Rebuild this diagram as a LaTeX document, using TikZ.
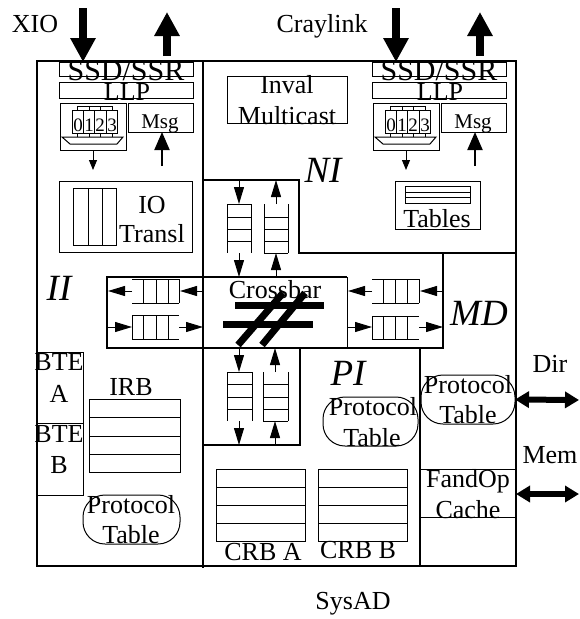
\documentclass[tikz,border=0pt]{standalone}
\usepackage{fontspec}
\setmainfont{Liberation Serif}
\usetikzlibrary{arrows.meta}
\tikzset{
 thk/.style={line width=2pt},
 thn/.style={line width=1pt},
 rbox/.style={draw, line width=1pt, inner sep=0pt, outer sep=0pt, anchor=north west},
 rnd/.style={rbox, rounded corners=22pt},
 txt/.style={inner sep=0pt, anchor=base, font=\fontsize{26}{30}\selectfont},
 ssdtxt/.style={txt, font=\fontsize{30}{30}\selectfont},
 stxt/.style={txt, font=\fontsize{21}{24}\selectfont},
 dtxt/.style={txt, font=\fontsize{19}{22}\selectfont},
 itxt/.style={txt, font=\fontsize{37}{40}\selectfont\itshape},
 bigarr/.style={line width=8pt, -{Triangle[width=24pt,length=24pt]}},
 midarr/.style={line width=2pt, -{Triangle[width=15pt,length=18pt]}},
 smarr/.style={line width=1pt, -{Triangle[width=8pt,length=10pt]}},
 qarr/.style={line width=1pt, -{Triangle[width=10pt,length=17pt]}},
 dblarr/.style={line width=6pt, {Triangle[width=16pt,length=14pt]}-{Triangle[width=16pt,length=14pt]}},
 lad/.style={line width=1pt},
}
\begin{document}
\begin{tikzpicture}[x=1pt,y=-1pt]
\useasboundingbox (0,0) rectangle (579,619);
% outer chip box and region borders
\node[draw, thk, inner sep=0pt, minimum width=479pt, minimum height=505pt, anchor=north west] (chip) at (36,60) {};
\draw[thk] (203,60) -- (203,568);
\draw[thk] (203,180) -- (299,180) -- (299,253) -- (515,253);
\draw[thk] (347,277) -- (107,277) -- (107,348) -- (443,348) -- (443,253);
\draw[thn] (347,277) -- (347,348);
\draw[thk] (203,445) -- (300,445) -- (300,348);
\draw[thk] (420,348) -- (420,565);
% external labels
\node[txt] (tXIO) at (35,32) {XIO};
\node[txt] (tCray) at (322,32) {Craylink};
\node[txt] (tSys) at (353,609) {SysAD};
\node[txt] (tDir) at (550,372) {Dir};
\node[txt] (tMem) at (550,463) {Mem};
% the two link modules
\foreach \dx/\s in {0/L,313/R}{
 \node[rbox, minimum width=134pt, minimum height=14pt] (ssd\s) at ({59+\dx},62) {};
 \node[rbox, minimum width=134pt, minimum height=16pt] (llp\s) at ({59+\dx},82) {};
 \node[rbox, minimum width=66pt, minimum height=47pt] (qb\s) at ({60+\dx},103) {};
 \node[rbox, minimum width=65pt, minimum height=29pt] (msg\s) at ({128+\dx},103) {};
 \node[ssdtxt] (tssd\s) at ({126+\dx},80) {SSD/SSR};
 \node[txt] (tllp\s) at ({127+\dx},100) {LLP};
 \node[stxt] (tmsg\s) at ({160+\dx},128) {Msg};
 \draw[thn] ({72+\dx},110) rectangle ({117+\dx},133);
 \foreach \xx in {83,94,106}{\draw[thn] ({\xx+\dx},110) -- ({\xx+\dx},133);}
 \draw[thn] ({77+\dx},110) -- ({77+\dx},106) -- ({112+\dx},106) -- ({112+\dx},110);
 \foreach \xx in {89,100}{\draw[thn] ({\xx+\dx},106) -- ({\xx+\dx},110);}
 \foreach \xx in {77,89,100,112}{\draw[thn] ({\xx+\dx},133) -- ({\xx+\dx},137);}
 \draw[thn] ({62+\dx},137) -- ({123+\dx},137) -- ({117+\dx},144) -- ({70+\dx},144) -- cycle;
 \node[dtxt] (dz\s) at ({78+\dx},131) {0};
 \node[dtxt] (do\s) at ({89+\dx},131) {1};
 \node[dtxt] (dt\s) at ({100+\dx},131) {2};
 \node[dtxt] (dh\s) at ({112+\dx},131) {3};
 \coordinate (qo\s) at ({93+\dx},170);
 \draw[smarr] (qb\s.south) -- (qo\s);
 \coordinate (mi\s) at ({162+\dx},166);
 \draw[midarr] (mi\s) -- (mi\s |- msg\s.south);
 \coordinate (inT\s) at ({83+\dx},8);
 \draw[bigarr] (inT\s) -- (inT\s |- ssd\s.north);
 \coordinate (upB\s) at ({167+\dx},56);
 \coordinate (upT\s) at ({167+\dx},12);
 \draw[bigarr] (upB\s) -- (upT\s);
}
% IO Transl
\node[rbox, minimum width=133pt, minimum height=71pt] (io) at (59,181) {};
\draw[thn] (73,188) rectangle (116,245);
\draw[thn] (88,188) -- (88,245) (102,188) -- (102,245);
\node[txt] (tIO) at (152,213) {IO};
\node[txt] (tTr) at (152,242) {Transl};
% Inval Multicast
\node[rbox, minimum width=120pt, minimum height=47pt] (inv) at (227,76) {};
\node[txt] (tInv) at (287,93) {Inval};
\node[txt] (tMul) at (287,124) {Multicast};
% Tables
\node[rbox, minimum width=85pt, minimum height=48pt] (tab) at (395,181) {};
\draw[thn] (405,186) rectangle (470,203);
\draw[thn] (405,192) -- (470,192) (405,197) -- (470,197);
\node[txt] (tTab) at (437,227) {Tables};
% region labels
\node[itxt] (tNI) at (323,182) {NI};
\node[itxt] (tII) at (59,300) {II};
\node[itxt] (tMD) at (479,325) {MD};
\node[itxt] (tPI) at (348,385) {PI};
% crossbar
\node[txt] (xbar) at (275,298) {Crossbar};
\fill (235,302) rectangle (324,309);
\fill (223,321) rectangle (313,328);
\draw[line width=7pt] (238,345) -- (283,293);
\draw[line width=7pt] (262,345) -- (305,293);
% vertical queues (upper)
\draw[lad] (227,204) -- (227,253) (251,204) -- (251,253);
\foreach \yy in {204,217,229,241}{\draw[lad] (227,\yy) -- (251,\yy);}
\draw[lad] (264,204) -- (264,253) (288,204) -- (288,253);
\foreach \yy in {217,229,241,253}{\draw[lad] (264,\yy) -- (288,\yy);}
\coordinate (ua) at (239,180); \coordinate (ub) at (239,204);
\coordinate (uc) at (239,253); \coordinate (ud) at (239,277);
\draw[qarr] (ua) -- (ub); \draw[qarr] (uc) -- (ud);
\coordinate (ue) at (276,204); \coordinate (uf) at (276,180);
\coordinate (ug) at (276,277); \coordinate (uh) at (276,253);
\draw[qarr] (ue) -- (uf); \draw[qarr] (ug) -- (uh);
% vertical queues (lower)
\draw[lad] (227,372) -- (227,421) (252,372) -- (252,421);
\foreach \yy in {372,384,397,409}{\draw[lad] (227,\yy) -- (252,\yy);}
\draw[lad] (263,372) -- (263,421) (288,372) -- (288,421);
\foreach \yy in {384,397,409,421}{\draw[lad] (263,\yy) -- (288,\yy);}
\coordinate (la) at (239,348); \coordinate (lb) at (239,372);
\coordinate (lc) at (239,421); \coordinate (ld) at (239,445);
\draw[qarr] (la) -- (lb); \draw[qarr] (lc) -- (ld);
\coordinate (le) at (275,372); \coordinate (lf) at (275,348);
\coordinate (lg) at (275,445); \coordinate (lh) at (275,421);
\draw[qarr] (le) -- (lf); \draw[qarr] (lg) -- (lh);
% horizontal queues (left)
\draw[lad] (132,279) -- (179,279) (132,303) -- (179,303);
\foreach \xx in {143,156,168,179}{\draw[lad] (\xx,279) -- (\xx,303);}
\draw[lad] (132,315) -- (179,315) (132,339) -- (179,339);
\foreach \xx in {132,143,156,168}{\draw[lad] (\xx,315) -- (\xx,339);}
\coordinate (ha) at (203,291); \coordinate (hb) at (180,291);
\coordinate (hc) at (132,291); \coordinate (hd) at (108,291);
\draw[qarr] (ha) -- (hb); \draw[qarr] (hc) -- (hd);
\coordinate (he) at (108,327); \coordinate (hf) at (132,327);
\coordinate (hg) at (179,327); \coordinate (hh) at (203,327);
\draw[qarr] (he) -- (hf); \draw[qarr] (hg) -- (hh);
% horizontal queues (right)
\draw[lad] (372,279) -- (419,279) (372,303) -- (419,303);
\foreach \xx in {383,395,407,419}{\draw[lad] (\xx,279) -- (\xx,303);}
\draw[lad] (372,316) -- (419,316) (372,339) -- (419,339);
\foreach \xx in {372,383,395,407}{\draw[lad] (\xx,316) -- (\xx,339);}
\coordinate (ra) at (443,291); \coordinate (rb) at (420,291);
\coordinate (rc) at (372,291); \coordinate (rd) at (348,291);
\draw[qarr] (ra) -- (rb); \draw[qarr] (rc) -- (rd);
\coordinate (re) at (347,327); \coordinate (rf) at (372,327);
\coordinate (rg) at (419,327); \coordinate (rh) at (443,327);
\draw[qarr] (re) -- (rf); \draw[qarr] (rg) -- (rh);
% II region contents
\draw[thn] (36,352) -- (83,352) -- (83,495) -- (36,495);
\draw[thn] (36,423) -- (83,423);
\node[txt] (tB1) at (59,370) {BTE};
\node[txt] (tBA) at (59,402) {A};
\node[txt] (tB2) at (59,442) {BTE};
\node[txt] (tBB) at (59,473) {B};
\node[txt] (tIRB) at (131,395) {IRB};
\node[rbox, minimum width=91pt, minimum height=73pt] (irb) at (89,399) {};
\draw[thn] (89,417) -- (180,417) (89,436) -- (180,436) (89,454) -- (180,454);
\node[rnd, minimum width=97pt, minimum height=49pt] (ptL) at (83,495) {};
\node[txt] (tPL1) at (131,513) {Protocol};
\node[txt] (tPL2) at (131,543) {Table};
% PI region contents
\node[rnd, minimum width=95pt, minimum height=49pt] (ptP) at (323,397) {};
\node[txt] (tPP1) at (373,415) {Protocol};
\node[txt] (tPP2) at (372,446) {Table};
\node[rbox, minimum width=89pt, minimum height=72pt] (crbA) at (216,469) {};
\draw[thn] (216,487) -- (305,487) (216,505) -- (305,505) (216,523) -- (305,523);
\node[rbox, minimum width=89pt, minimum height=72pt] (crbB) at (318,469) {};
\draw[thn] (318,487) -- (407,487) (318,505) -- (407,505) (318,523) -- (407,523);
\node[txt] (tCA) at (263,560) {CRB A};
\node[txt] (tCB) at (358,558) {CRB B};
% MD region contents
\node[rnd, minimum width=94pt, minimum height=49pt] (ptM) at (421,375) {};
\node[txt] (tPM1) at (468,393) {Protocol};
\node[txt] (tPM2) at (468,423) {Table};
\draw[thn] (420,469) -- (515,469) (420,517) -- (515,517);
\node[txt] (tFO) at (468,487) {FandOp};
\node[txt] (tCa) at (468,518) {Cache};
% memory side arrows
\coordinate (dirE) at (579,400);
\draw[dblarr] (ptM.east) -- (dirE);
\coordinate (memW) at (516,494); \coordinate (memE) at (579,494);
\draw[dblarr] (memW) -- (memE);
\end{tikzpicture}
\end{document}
